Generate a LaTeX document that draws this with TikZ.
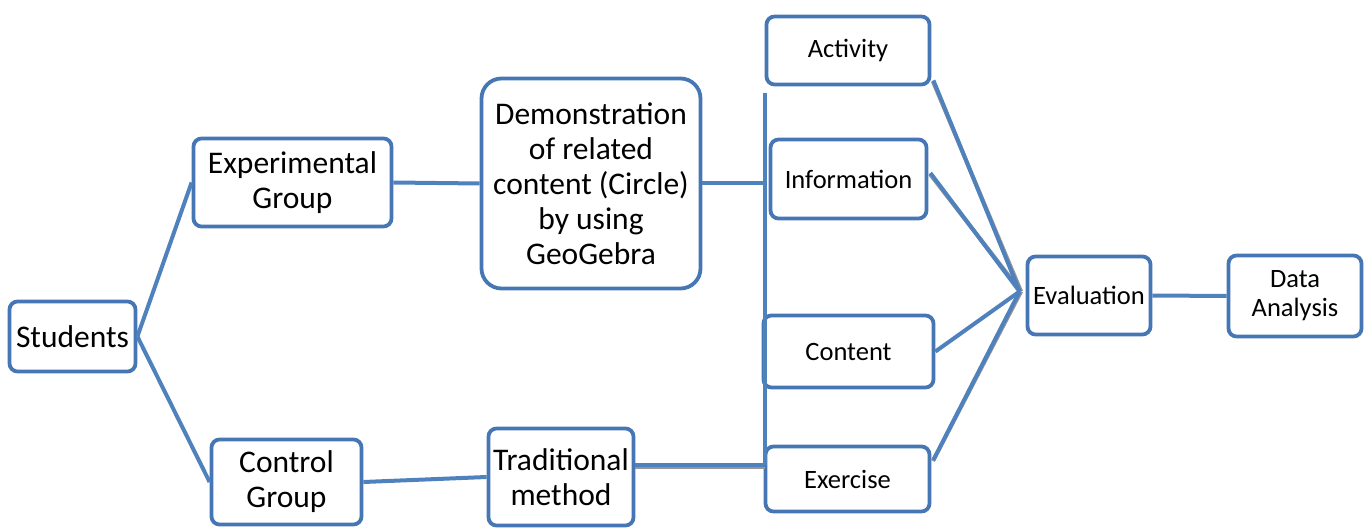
\documentclass[tikz,border=0pt]{standalone}
\usepackage{fontspec}
\setmainfont{Carlito}
\definecolor{bbord}{RGB}{70,119,180}
\definecolor{bline}{RGB}{79,129,189}
\definecolor{shd}{RGB}{150,150,150}
\tikzset{
  box/.style={draw=bbord, line width=3.8pt, rounded corners=8pt, fill=white, inner sep=0pt, align=center, text=black},
  big/.style={font=\fontsize{31.5}{35}\selectfont},
  small/.style={font=\fontsize{26.5}{29}\selectfont},
  conn/.style={draw=bline, line width=4pt},
  shadow/.style={draw=shd, line width=4pt}
}
\begin{document}
\begin{tikzpicture}[x=1pt,y=-1pt]
\useasboundingbox (0,0) rectangle (1368,529);
% nodes
\node[box,big,minimum width=126pt,minimum height=70pt] (stu) at (72.5,336.5) {Students};
\node[box,big,minimum width=198pt,minimum height=88pt] (exp) at (292.5,182.5) {Experimental\\Group};
\node[box,big,minimum width=150pt,minimum height=85pt] (ctrl) at (286.5,482) {Control\\Group};
\node[box,big,rounded corners=20pt,minimum width=219pt,minimum height=210pt] (demo) at (591,183.5) {Demonstration\\of related\\content (Circle)\\by using\\GeoGebra};
\node[box,big,minimum width=145pt,minimum height=97pt] (trad) at (561,477) {Traditional\\method};
\node[box,small,minimum width=163pt,minimum height=68pt] (act) at (848,50.5) {Activity};
\node[box,small,minimum width=156pt,minimum height=79pt] (info) at (848.5,179) {Information};
\node[box,small,minimum width=170pt,minimum height=72pt] (cont) at (848.5,351.5) {Content};
\node[box,small,minimum width=164pt,minimum height=65pt] (exer) at (847.5,479) {Exercise};
\node[box,small,minimum width=123pt,minimum height=78pt] (eval) at (1089,295.5) {Evaluation};
\node[box,small,minimum width=133pt,minimum height=81pt] (da) at (1295,296) {Data\\Analysis};
% coordinates
\coordinate (vt) at (765,93);
\coordinate (vb) at (765,465);
\coordinate (conv) at ([xshift=-6pt,yshift=4pt]eval.west);
% connectors
\draw[conn] (stu.east) -- (exp.west);
\draw[conn] (stu.east) -- (ctrl.west);
\draw[conn] (exp.east) -- (demo.west);
\draw[conn] (ctrl.east) -- (trad.west);
\draw[shadow] ([yshift=-2pt]vb -| trad.east) -- ([yshift=-2pt]vb);
\draw[conn] (vb -| trad.east) -- (vb);
\draw[conn] (vt) -- (vb);
\draw[conn] (demo.east) -- (demo.east -| vt);
\draw[shadow] ([xshift=1.5pt,yshift=5pt]act.south east) -- ([xshift=1.5pt]conv);
\draw[shadow] ([xshift=1.5pt,yshift=5pt]info.east) -- ([xshift=1.5pt]conv);
\draw[shadow] ([xshift=1.5pt,yshift=18pt]exer.east) -- ([xshift=1.5pt]conv);
\draw[conn] ([xshift=2pt,yshift=6pt]act.south east) -- (conv);
\draw[conn] ([xshift=2pt,yshift=6pt]info.east) -- (conv);
\draw[conn] (cont.east) -- (conv);
\draw[conn] ([xshift=2pt,yshift=19pt]exer.east) -- (conv);
\draw[conn] (eval.east) -- (da.west);
\end{tikzpicture}
\end{document}
